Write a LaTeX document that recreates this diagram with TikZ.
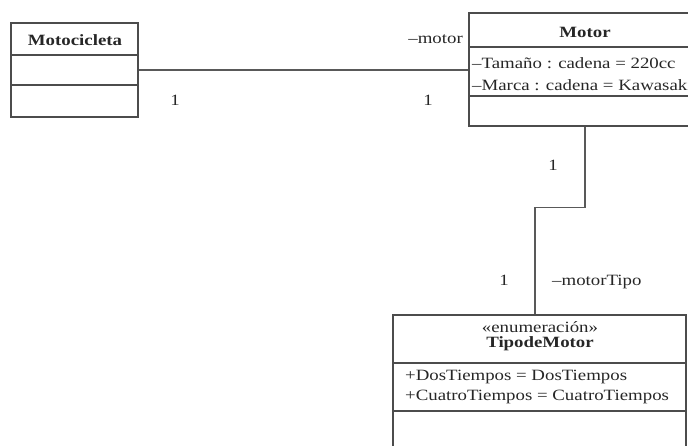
\documentclass[tikz,border=0pt]{standalone}
\usepackage{fontspec}
\setmainfont{Liberation Serif}[FakeStretch=1.2]
\begin{document}
\begin{tikzpicture}[x=1pt,y=-1pt,
  box/.style={draw=black!70,line width=1.4pt,rectangle,inner sep=0pt},
  sep/.style={draw=black!70,line width=1.4pt},
  conn/.style={draw=black!65,line width=1.4pt},
  txt/.style={inner sep=0pt,font=\fontsize{15.7}{18}\selectfont,text=black!85},
  ttl/.style={txt,font=\fontsize{15.7}{18}\selectfont\bfseries}]
\clip (0,0) rectangle (688,445);
\useasboundingbox (0,0) rectangle (688,445);
% boxes
\node[box,minimum width=127pt,minimum height=94pt] (moto) at (74.5,70) {};
\node[box,minimum width=232pt,minimum height=113pt] (motor) at (585,69.5) {};
\node[box,minimum width=293pt,minimum height=150pt] (tipo) at (539.5,390) {};
% dividers
\draw[sep] (11,55) -- (138,55);
\draw[sep] (11,85) -- (138,85);
\draw[sep] (469,47) -- (701,47);
\draw[sep] (469,96) -- (701,96);
\draw[sep] (393,363) -- (686,363);
\draw[sep] (393,411) -- (686,411);
% texts
\node[ttl] (motoT) at (75,40) {Motocicleta};
\node[ttl] (motorT) at (585,32) {Motor};
\node[txt,anchor=base west] (a1) at (472,68) {–Tamaño : cadena = 220cc};
\node[txt,anchor=base west] (a2) at (472,90) {–Marca : cadena = Kawasaki};
\node[txt] (st) at (540,327) {«enumeración»};
\node[ttl] (tipoT) at (540,344) {TipodeMotor};
\node[txt,anchor=west] (e1) at (405,377) {+DosTiempos = DosTiempos};
\node[txt,anchor=west] (e2) at (405,397) {+CuatroTiempos = CuatroTiempos};
% connectors
\draw[conn] (moto.east) -- (moto.east -| motor.west);
\draw[conn] (motor.south) -- ++(0,81) coordinate (bend) -| ([xshift=-4.5pt]tipo.north);
% labels
\node[txt,anchor=east] (lm) at (463,39) {–motor};
\node[txt] (l1) at (175,100) {1};
\node[txt] (l2) at (428,100) {1};
\node[txt] (l3) at (553,165) {1};
\node[txt] (l4) at (504,280) {1};
\node[txt,anchor=west] (lt) at (552,282) {–motorTipo};
\end{tikzpicture}
\end{document}
